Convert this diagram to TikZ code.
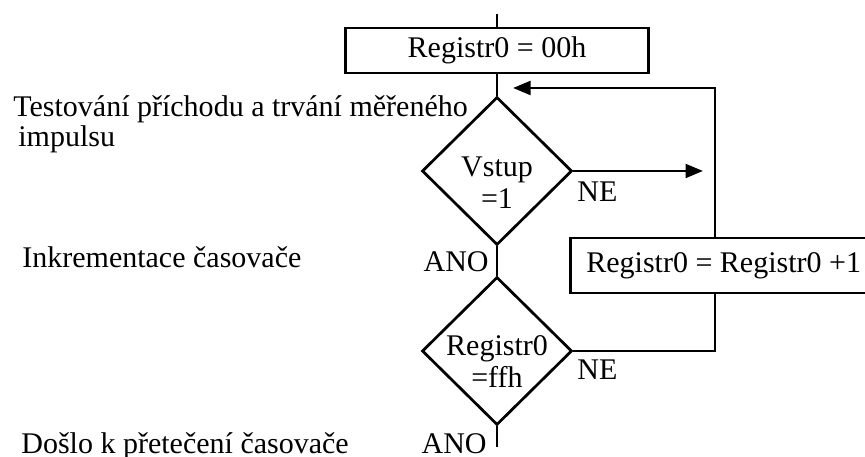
\documentclass[tikz,border=0pt]{standalone}
\usepackage{fontspec}
\setmainfont{Liberation Serif}
\usetikzlibrary{arrows.meta,shapes.geometric}

\begin{document}
\begin{tikzpicture}[x=0.4pt,y=-0.4pt,>={Triangle[length=7pt,width=5.5pt]},line width=1.1pt,
  font=\fontsize{12}{12.8}\selectfont,
  procbox/.style={draw,inner sep=0pt,minimum height=18pt},
  cond/.style={draw,diamond,inner sep=0pt,minimum width=60pt,minimum height=59.2pt},
  note/.style={inner sep=0pt,anchor=base west}]
\useasboundingbox (0,0) rectangle (865,457);\clip (0,0) rectangle (865,457);
% main column
\coordinate (start) at (497,14);
\node[procbox,minimum width=121.2pt] (init) at (497,50.5) {Registr0 = 00h};
\node[cond] (vstup) at (497,171) {};
\node[align=center,inner sep=0pt] (vstuptxt) at (497,183) {Vstup\\=1};
\node[cond] (full) at (497,351) {};
\node[align=center,inner sep=0pt] (fulltxt) at (497,362) {Registr0\\=ffh};
\coordinate (stop) at (497,447);
% increment box on the loop
\node[procbox,minimum height=22pt,inner xsep=6.4pt,anchor=west] (inc) at (569,265.5) {Registr0 = Registr0 +1};
\coordinate (loop) at (715,88);\coordinate (back) at (513,88);\coordinate (ne) at (703,171);
\draw (start)--(init.north);\draw (init.south)--(vstup.north);
\draw (vstup.south)--(full.north);\draw (full.south)--(stop);
\draw[->] (vstup.east)--(ne);
\draw[->] (inc.north -| loop) |- (back);
\draw (full.east) -| (inc.south -| loop);
% branch labels
\node[inner sep=0pt,anchor=base east] (ano1) at (490,272) {ANO};
\node[inner sep=0pt,anchor=base east] (ano2) at (488,454) {ANO};
\node[note] (ne1) at (576,202) {NE};\node[note] (ne2) at (576,380) {NE};
% comments on the left (base anchor sits on the last line)
\node[note,align=left,font=\fontsize{12}{12}\selectfont] (test) at (12,147) {Testování příchodu a trvání měřeného\\\hspace{2pt}impulsu};
\node[note] (inkr) at (21,268) {Inkrementace časovače};
\node[note] (over) at (20,454) {Došlo k přetečení časovače};
\end{tikzpicture}
\end{document}
